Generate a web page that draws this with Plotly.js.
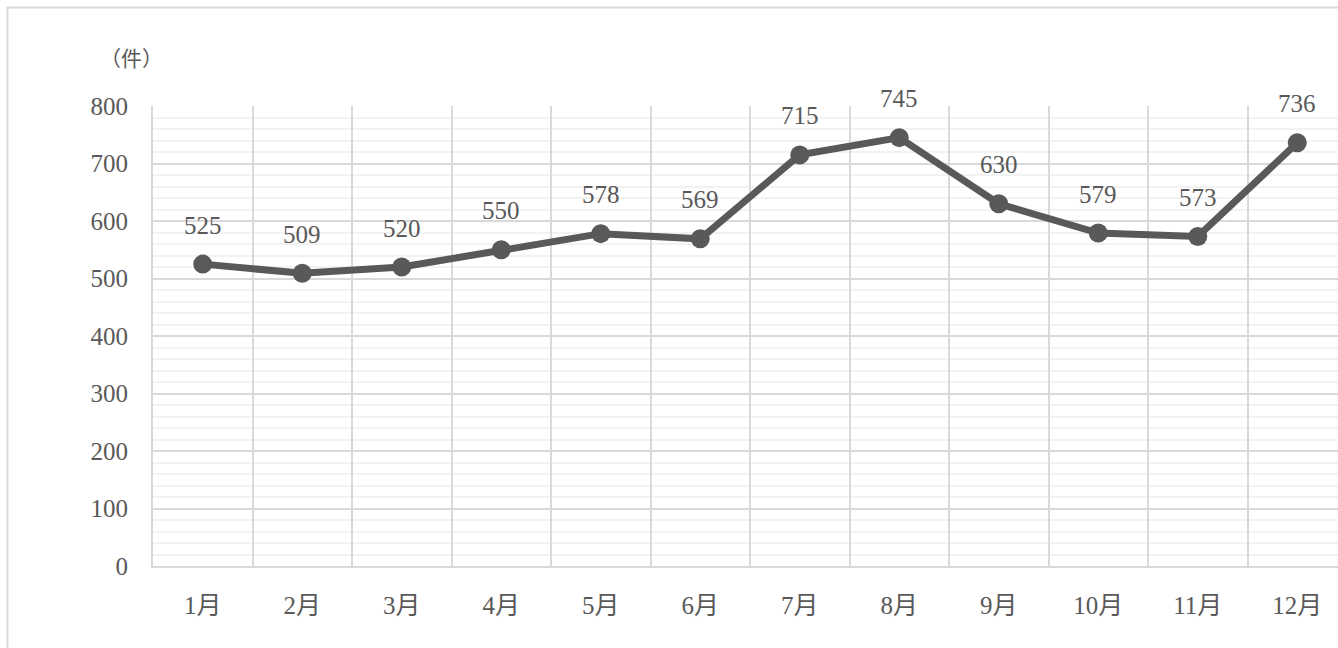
<!DOCTYPE html>
<html>
<head>
<meta charset="utf-8">
<script src="https://cdn.plot.ly/plotly-3.0.1.min.js"></script>
<style>
html,body{margin:0;padding:0;background:#fff;overflow:hidden;}
#chart{width:1400px;height:700px;}
</style>
</head>
<body>
<div id="chart"></div>
<script>
const months = ["1月","2月","3月","4月","5月","6月","7月","8月","9月","10月","11月","12月"];
const counts = [525,509,520,550,578,569,715,745,630,579,573,736];
const yTicks = [0,100,200,300,400,500,600,700,800];
const unitLabel = "（件）";
const periodLabel = "（令和○年○月～○月）";

const W = 1400, H = 700;
const L = 153, R = 1347, T = 106, B = 566;
const textColor = "#595959";
const fontFam = "'Liberation Serif', 'Noto Sans CJK JP', serif";

const trace = {
  type: "scatter",
  mode: "lines+markers",
  x: months,
  y: counts,
  line: {color: "#595959", width: 7},
  marker: {color: "#595959", size: 19},
  hoverinfo: "skip",
  cliponaxis: false
};

const annotations = counts.map((v, i) => ({
  x: months[i], y: v, xref: "x", yref: "y",
  text: String(v), showarrow: false,
  yanchor: "middle", xanchor: "center", yshift: 39,
  font: {family: fontFam, size: 25, color: textColor}
}));
annotations.push({
  xref: "paper", yref: "paper",
  x: (131 - L) / (R - L), y: (B - 59) / (B - T),
  xanchor: "center", yanchor: "middle",
  text: unitLabel, showarrow: false,
  font: {family: fontFam, size: 21, color: textColor}
});
annotations.push({
  xref: "paper", yref: "paper",
  x: (1240 - L) / (R - L), y: (B + 3) / (B - T),
  xanchor: "right", yanchor: "bottom",
  text: periodLabel, showarrow: false,
  font: {family: fontFam, size: 24, color: textColor}
});

const layout = {
  width: W, height: H,
  margin: {l: L, r: W - R, t: T, b: H - B, pad: 0},
  paper_bgcolor: "#ffffff",
  plot_bgcolor: "#ffffff",
  showlegend: false,
  xaxis: {
    type: "category",
    range: [-0.5, 11.5],
    tickson: "boundaries",
    showgrid: true, gridcolor: "#d9d9d9", gridwidth: 2,
    showline: true, linecolor: "#d9d9d9", linewidth: 2,
    ticks: "", zeroline: false,
    ticklabelstandoff: 16,
    tickfont: {family: fontFam, size: 25, color: textColor},
    fixedrange: true
  },
  yaxis: {
    range: [0, 800],
    tickvals: yTicks,
    ticktext: yTicks.map(String),
    showgrid: true, gridcolor: "#d9d9d9", gridwidth: 2,
    minor: {dtick: 20, showgrid: true, gridcolor: "#f2f2f2", gridwidth: 2},
    showline: true, linecolor: "#d9d9d9", linewidth: 2,
    zeroline: false, ticks: "",
    ticklabelstandoff: 18,
    tickfont: {family: fontFam, size: 25, color: textColor},
    fixedrange: true
  },
  annotations: annotations,
  shapes: [{
    type: "rect", xref: "paper", yref: "paper",
    x0: (7.5 - L) / (R - L), x1: (1390 - L) / (R - L),
    y0: (B - 690) / (B - T), y1: (B - 7.5) / (B - T),
    line: {color: "#d9d9d9", width: 2}, fillcolor: "rgba(0,0,0,0)",
    layer: "below"
  }]
};

Plotly.newPlot("chart", [trace], layout, {displayModeBar: false, staticPlot: true});
</script>
</body>
</html>
